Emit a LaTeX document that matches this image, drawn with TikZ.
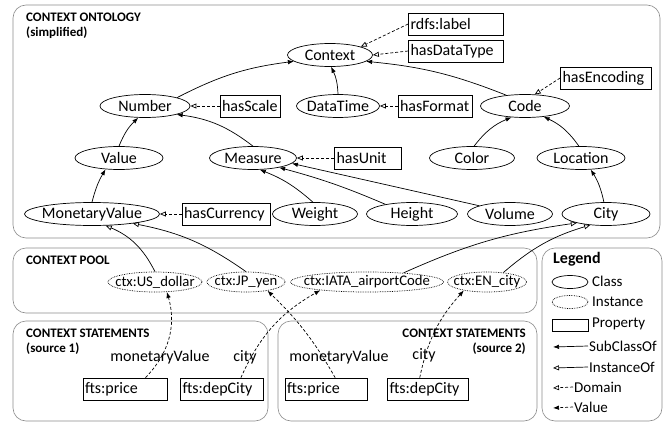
\documentclass[tikz,border=0pt]{standalone}
\usepackage{fontspec}
\setmainfont{Carlito}
\usetikzlibrary{shapes.geometric,arrows.meta}

\tikzset{
  class/.style={ellipse, draw, line width=0.7pt, inner xsep=-10pt, inner ysep=-3pt, minimum height=23pt, minimum width=#1, font=\fontsize{16}{18}\selectfont},
  class/.default=86pt,
  instance/.style={ellipse, draw, densely dotted, line width=0.7pt, inner xsep=-17pt, inner ysep=-3pt, minimum height=20pt, minimum width=#1, font=\fontsize{14.7}{16}\selectfont},
  property/.style={rectangle, draw, line width=0.7pt, inner sep=2pt, minimum height=22pt, text width=#1, align=left, font=\fontsize{16}{18}\selectfont},
  panel/.style={draw=black!45, line width=0.6pt, rounded corners=13pt},
  paneltitle/.style={font=\bfseries\fontsize{13}{14.5}\selectfont, inner sep=0pt},
  legtext/.style={anchor=west, inner sep=0pt, font=\fontsize{15}{17}\selectfont},
  subclass/.style={line width=0.7pt, -{Latex[length=6pt,width=4.5pt]}},
  instanceof/.style={line width=0.7pt, -{Triangle[open,length=6pt,width=5pt]}},
  domainof/.style={line width=0.7pt, dashed, dash pattern=on 3pt off 2pt, -{Triangle[open,length=6pt,width=5pt]}},
  valueof/.style={line width=0.7pt, dashed, dash pattern=on 3pt off 2pt, -{Latex[length=6pt,width=4.5pt]}}
}

\begin{document}
\begin{tikzpicture}[x=1pt,y=-1pt]
\useasboundingbox (0,0) rectangle (665,423);

% panels
\draw[panel] (13,5) rectangle (660,238);
\draw[panel] (13,248) rectangle (537,313);
\draw[panel] (13,321) rectangle (268,421);
\draw[panel] (278,321) rectangle (537,421);
\draw[panel] (542,248) rectangle (662,421);

\node[paneltitle, anchor=north west, align=left] (tonto) at (26,13) {CONTEXT ONTOLOGY\\(simplified)};
\node[paneltitle, anchor=north west] (tpool) at (26,256) {CONTEXT POOL};
\node[paneltitle, anchor=north west, align=left] (tstat1) at (26,329) {CONTEXT STATEMENTS\\(source 1)};
\node[paneltitle, anchor=north east, align=right] (tstat2) at (526,329) {CONTEXT STATEMENTS\\(source 2)};

% ontology classes
\node[class=85pt] (Context) at (330,55) {Context};
\node[class=90pt] (Number) at (145,106) {Number};
\node[class=83pt] (DataTime) at (338,106) {DataTime};
\node[class=89pt] (Code) at (525,106) {Code};
\node[class=88pt] (Value) at (119,158) {Value};
\node[class=87pt] (Measure) at (253,158) {Measure};
\node[class=85pt] (Color) at (472,158) {Color};
\node[class=88pt] (Location) at (581,158) {Location};
\node[class=135pt] (MonetaryValue) at (92,214) {MonetaryValue};
\node[class=85pt] (Weight) at (315,214) {Weight};
\node[class=91pt] (Height) at (412,214) {Height};
\node[class=85pt] (Volume) at (510,214) {Volume};
\node[class=88pt] (City) at (606,214) {City};

% properties
\node[property=91pt] (rdfslabel) at (456,24) {rdfs:label};
\node[property=91pt] (hasDataType) at (456,51) {hasDataType};
\node[property=87pt] (hasEncoding) at (606,78) {hasEncoding};
\node[property=70pt] (hasFormat) at (435,106) {hasFormat};
\node[property=56pt] (hasScale) at (250,106) {hasScale};
\node[property=63pt] (hasUnit) at (368,158) {hasUnit};
\node[property=84pt] (hasCurrency) at (226,214) {hasCurrency};

% subclass edges
\draw[subclass] (Number.north east) to[bend left=10] (Context.190);
\draw[subclass] (DataTime.north) to[bend right=12] (Context.-85);
\draw[subclass] (Code.150) to[bend right=8] (Context.-10);
\draw[subclass] (Value.north) to[bend left=12] (Number.240);
\draw[subclass] (Measure.north) to[bend right=15] (Number.-15);
\draw[subclass] (MonetaryValue.north) to[bend left=8] (Value.220);
\draw[subclass] (Weight.100) to[bend right=10] (Measure.-60);
\draw[subclass] (Height.160) to[bend right=4] (Measure.-20);
\draw[subclass] (Volume.165) -- (Measure.-8);
\draw[subclass] (Color.80) to[bend left=15] (Code.-140);
\draw[subclass] (Location.100) to[bend right=15] (Code.-30);
\draw[subclass] (City.100) to[bend right=10] (Location.-50);

% domain edges
\draw[domainof] (rdfslabel.west) -- (Context.15);
\draw[domainof] (hasDataType.west) -- (Context.east);
\draw[domainof] (hasEncoding.west) -- (Code.50);
\draw[domainof] (hasFormat.west) -- (DataTime.east);
\draw[domainof] (hasScale.west) -- (Number.east);
\draw[domainof] (hasUnit.west) -- (Measure.east);
\draw[domainof] (hasCurrency.west) -- (MonetaryValue.east);

% context pool
\node[instance=94pt] (USdollar) at (155,282) {ctx:US\_dollar};
\node[instance=78pt] (JPyen) at (246,282) {ctx:JP\_yen};
\node[instance=153pt] (IATA) at (367,282) {ctx:IATA\_airportCode};
\node[instance=79pt] (ENcity) at (487,282) {ctx:EN\_city};

\draw[instanceof] (USdollar.north) to[bend right=20] (MonetaryValue.-40);
\draw[instanceof] (JPyen.north) to[bend right=12] (MonetaryValue.-13);
\draw[instanceof] (IATA.14) to[bend left=8] (City.-163);
\draw[instanceof] (ENcity.30) to[bend left=12] (City.-145);

% context statements
\node[property=80pt] (price1) at (125,389) {fts:price};
\node[property=79pt] (depCity1) at (222,389) {fts:depCity};
\node[property=78pt] (price2) at (326,389) {fts:price};
\node[property=77pt] (depCity2) at (428,389) {fts:depCity};

\node[font=\fontsize{16}{18}\selectfont, inner sep=0pt] (mv1) at (160,357) {monetaryValue};
\node[font=\fontsize{16}{18}\selectfont, inner sep=0pt] (city1) at (245,357) {city};
\node[font=\fontsize{16}{18}\selectfont, inner sep=0pt] (mv2) at (339,357) {monetaryValue};
\node[font=\fontsize{16}{18}\selectfont, inner sep=0pt] (city2) at (424,355) {city};

\draw[valueof] (price1.29) to[bend right=30] (USdollar.-40);
\draw[valueof] (depCity1.31) to[bend left=18] (IATA.-170);
\draw[valueof] (price2.51) to[bend right=8] (JPyen.-22);
\draw[valueof] (depCity2.126) to[bend left=15] (ENcity.-160);

% legend
\node[font=\bfseries\fontsize{16}{18}\selectfont, anchor=west, inner sep=0pt] (legend) at (553,259) {Legend};
\node[ellipse, draw, line width=0.7pt, minimum width=36pt, minimum height=13pt, inner sep=0pt] (legclass) at (570,282) {};
\node[legtext] (legclasstxt) at (592,281) {Class};
\node[ellipse, draw, densely dotted, line width=0.7pt, minimum width=36pt, minimum height=13pt, inner sep=0pt] (leginst) at (570,302) {};
\node[legtext] (leginsttxt) at (592,302) {Instance};
\node[draw, line width=0.7pt, minimum width=36pt, minimum height=12pt, inner sep=0pt] (legprop) at (570,325) {};
\node[legtext] (legproptxt) at (592,324) {Property};
\node[legtext] (legsubtxt) at (589,346) {SubClassOf};
\node[legtext] (leginstoftxt) at (589,367) {InstanceOf};
\node[legtext] (legdomtxt) at (574,387) {Domain};
\node[legtext] (legvaltxt) at (574,407) {Value};
\coordinate (legsubA) at (553,347);
\coordinate (leginstA) at (553,368);
\coordinate (legdomA) at (553,388);
\coordinate (legvalA) at (553,408);
\draw[subclass] (legsubtxt.west) ++(-1,0) -- (legsubA);
\draw[instanceof] (leginstoftxt.west) ++(-1,0) -- (leginstA);
\draw[domainof] (legdomtxt.west) ++(-1,0) -- (legdomA);
\draw[valueof] (legvaltxt.west) ++(-1,0) -- (legvalA);
\end{tikzpicture}
\end{document}
